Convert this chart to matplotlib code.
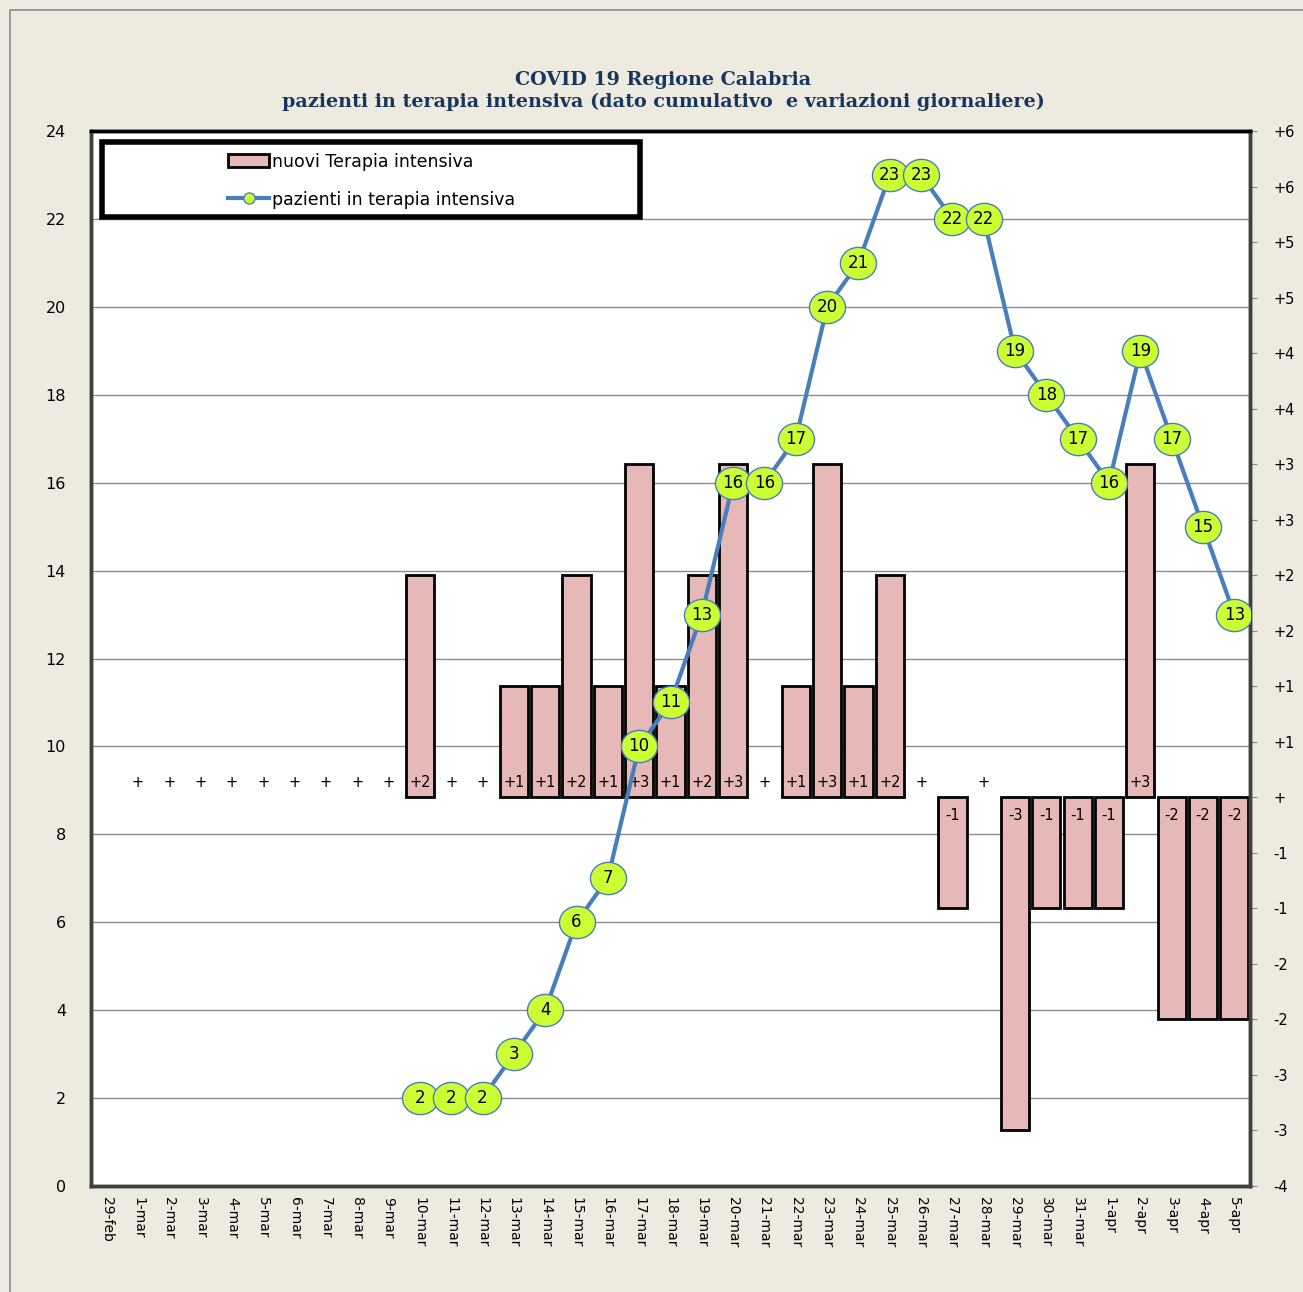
import matplotlib
matplotlib.use("Agg")
import matplotlib.pyplot as plt
from matplotlib.patches import Rectangle
from matplotlib.path import Path
from matplotlib.transforms import Affine2D
from matplotlib.lines import Line2D
import numpy as np

# Dati
giorni = ["29-feb"] + [f"{d}-mar" for d in range(1, 32)] + [f"{d}-apr" for d in range(1, 6)]
# variazioni giornaliere (None = nessun dato)
nuovi = [None] + [0] * 9 + [2, 0, 0, 1, 1, 2, 1, 3, 1, 2, 3, 0, 1, 3, 1, 2, 0, -1, 0,
                            -3, -1, -1, -1, 3, -2, -2, -2]
# pazienti in terapia intensiva (dal 10-mar)
pazienti = [None] * 10 + [2, 2, 2, 3, 4, 6, 7, 10, 11, 13, 16, 16, 17, 20, 21, 23, 23,
                          22, 22, 19, 18, 17, 16, 19, 17, 15, 13]

BEIGE = "#EDEAE0"
BAR = "#E6B9B8"
LINEA = "#4A7EBB"
VERDE = "#CCFF33"
TITOLO = "#17365D"

W, H = 1303, 1292
fig = plt.figure(figsize=(W / 100, H / 100), dpi=100)
fig.patch.set_facecolor(BEIGE)
fig.patches.append(Rectangle((10 / W, -0.1), 1.2, 1 - 10 / H + 0.1,
                             transform=fig.transFigure, fill=False,
                             edgecolor="#8C8C8C", linewidth=1.2))

x0, x1 = 91 / W, 1250 / W
y0, y1 = 1 - 1186 / H, 1 - 131 / H
ax = fig.add_axes([x0, y0, x1 - x0, y1 - y0])
ax.set_facecolor("white")
ax2 = ax.twinx()
x = np.arange(len(giorni))

# asse destro: variazioni (barre)
ymin_r, ymax_r = -3.5, 6
ax.set_ylim(ymin_r, ymax_r)
ax.set_xlim(-0.5, len(giorni) - 0.5)

# griglia (valori asse sinistro ogni 2)
for v in range(2, 24, 2):
    ax.axhline(ymin_r + v * (ymax_r - ymin_r) / 24, color="#8C8C8C", lw=1.0, zorder=0)

vals = np.array([np.nan if (v is None or v == 0) else v for v in nuovi], dtype=float)
ax.bar(x, vals, width=0.9, color=BAR, edgecolor="black", linewidth=2.0, zorder=2)

for i, v in enumerate(nuovi):
    if v is None:
        continue
    if v > 0:
        txt, off = f"+{v}", 15
    elif v == 0:
        txt, off = "+", 15
    else:
        txt, off = f"{v}", -18
    ax.annotate(txt, (i, 0), xytext=(0, off), textcoords="offset pixels",
                ha="center", va="center", fontsize=10.5, zorder=3)

rt = np.arange(-3.5, 6.01, 0.5)


def fmt_r(v):
    r = int(np.sign(v) * np.floor(abs(v) + 0.5))
    if r > 0:
        return f"+{r}"
    if r == 0:
        return "+"
    return str(r)


ax.yaxis.tick_right()
ax.set_yticks(rt)
ax.set_yticklabels([fmt_r(v) for v in rt], fontsize=10.5)
ax.tick_params(axis="y", which="both", left=False, labelleft=False, right=True,
               labelright=True, length=5, color="#8C8C8C", pad=12)
ax.set_xticks(x)
ax.set_xticklabels(giorni, rotation=-90, fontsize=10)
ax.tick_params(axis="x", length=0, pad=8)

# asse sinistro: pazienti (linea)
ax2.set_ylim(0, 24)
ax2.yaxis.tick_left()
ax2.set_yticks(range(0, 25, 2))
ax2.set_yticklabels([str(v) for v in range(0, 25, 2)], fontsize=11.5)
ax2.tick_params(axis="y", left=False, right=False, labelright=False, labelleft=True,
                length=0, pad=18)

ellisse = Path.unit_circle().transformed(Affine2D().scale(1.12, 1.0))
pv = np.array([np.nan if v is None else v for v in pazienti], dtype=float)
ax2.plot(x, pv, color=LINEA, lw=3, marker=ellisse, markersize=26,
         markerfacecolor=VERDE, markeredgecolor=LINEA, markeredgewidth=1.0, zorder=4)
for i, v in enumerate(pazienti):
    if v is not None:
        ax2.text(i, v, str(v), ha="center", va="center", fontsize=12, zorder=5)

for a in (ax, ax2):
    for s in ("left", "bottom", "right"):
        a.spines[s].set_linewidth(2.5)
        a.spines[s].set_color("#404040")
    a.spines["top"].set_linewidth(2.5)
    a.spines["top"].set_color("black")

# legenda
ax2.add_patch(Rectangle((102 / W, 1 - 217 / H), 538 / W, 75 / H, transform=fig.transFigure,
                        facecolor="white", edgecolor="black", linewidth=4, zorder=6))
handles = [Rectangle((0, 0), 1, 1, facecolor=BAR, edgecolor="black", linewidth=2),
           Line2D([], [], color=LINEA, lw=3, marker="o", markersize=8,
                  markerfacecolor=VERDE, markeredgecolor=LINEA)]
leg = fig.legend(handles, ["nuovi Terapia intensiva", "pazienti in terapia intensiva"],
                 loc="upper left", bbox_to_anchor=(219 / W, 1 - 144 / H), frameon=False,
                 fontsize=12.5, handlelength=2.4, handleheight=0.8, handletextpad=0.15,
                 labelspacing=1.15, borderpad=0)
leg.set_zorder(7)

fig.text(0.509, 1 - 80 / H, "COVID 19 Regione Calabria", ha="center", va="center",
         fontsize=13.8, fontweight="bold", family="DejaVu Serif", color=TITOLO)
fig.text(0.509, 1 - 102 / H,
         "pazienti in terapia intensiva (dato cumulativo  e variazioni giornaliere)",
         ha="center", va="center", fontsize=13.8, fontweight="bold",
         family="DejaVu Serif", color=TITOLO)

fig.savefig("out.png", dpi=100, facecolor=BEIGE)
